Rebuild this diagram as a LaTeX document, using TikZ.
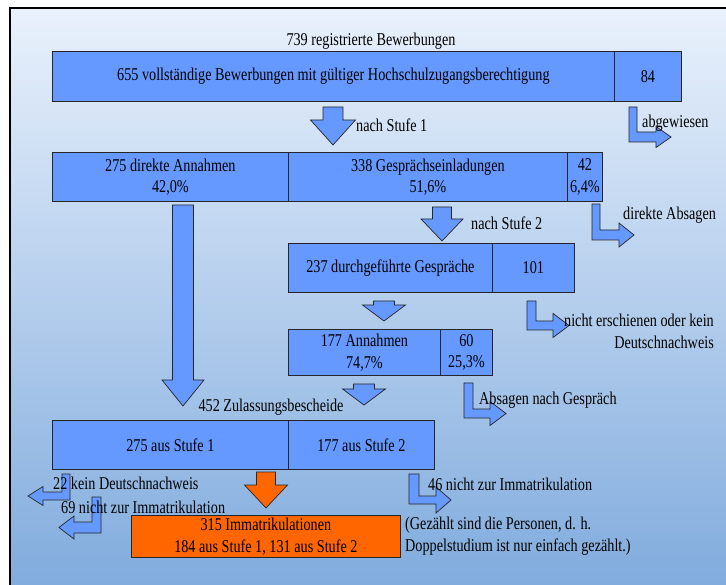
\documentclass[tikz,border=0pt]{standalone}
\usepackage{fontspec}
\setmainfont{Liberation Serif}[FakeStretch=0.79]
\definecolor{boxblue}{HTML}{6699FF}
\definecolor{boxorange}{HTML}{FF6600}
\definecolor{bgtop}{HTML}{E9F1FC}
\definecolor{bgbot}{HTML}{80ABDD}

% block arrow pointing down: style, centre x, top y, head y, tip y, half shaft, half head
\newcommand\blockdown[7]{%
  \draw[#1] ({#2-#6},#3) -- ({#2+#6},#3) -- ({#2+#6},#4) -- ({#2+#7},#4)
    -- (#2,#5) -- ({#2-#7},#4) -- ({#2-#6},#4) -- cycle;}
% bent arrow, down then right: stem left, stem right, top, bar top, bar bottom, head base x, head half height, tip x
\newcommand\bentright[8]{%
  \draw[blockarrow] (#1,#3) -- (#2,#3) -- (#2,#4) -- (#6,#4) -- (#6,{(#4+#5)/2-#7})
    -- (#8,{(#4+#5)/2}) -- (#6,{(#4+#5)/2+#7}) -- (#6,#5) -- (#1,#5) -- cycle;}
% bent arrow, down then left
\newcommand\bentleft[8]{%
  \draw[blockarrow] (#1,#3) -- (#2,#3) -- (#2,#5) -- (#6,#5) -- (#6,{(#4+#5)/2+#7})
    -- (#8,{(#4+#5)/2}) -- (#6,{(#4+#5)/2-#7}) -- (#6,#4) -- (#1,#4) -- cycle;}

\begin{document}
\begin{tikzpicture}[x=1pt,y=-1pt,
  every node/.style={font=\fontsize{18}{21.5}\selectfont, inner sep=0pt},
  cell/.style={draw=black!85, line width=0.8pt, fill=boxblue, anchor=north west, align=center},
  orangecell/.style={cell, fill=boxorange},
  dims/.style 2 args={minimum width=#1pt, minimum height=#2pt},
  blockarrow/.style={draw=black!85, line width=0.7pt, fill=boxblue, line join=miter},
  orangearrow/.style={blockarrow, fill=boxorange},
  label/.style={anchor=west},
]
\useasboundingbox (0,0) rectangle (726,585);

% backdrop and frame
\shade[top color=bgtop, bottom color=bgbot] (9.5,8.5) rectangle (730,590);
\draw[line width=2pt, black] (9.5,590) -- (9.5,8.5) -- (730,8.5);

% first row
\node (total) at (371,41) {739 registrierte Bewerbungen};
\node[cell, dims={562}{50}] (complete) at (52,51) {655 vollständige Bewerbungen mit gültiger Hochschulzugangsberechtigung};
\node[cell, dims={67}{50}] (rejected) at (614,51) {84};

\blockdown{blockarrow}{333}{107}{120}{145}{10}{22.5}
\node[label] (stage1) at (356,125) {nach Stufe 1};
\bentright{629}{637}{107}{132}{142}{656}{10.5}{671}
\node[label] (refused) at (642,123) {abgewiesen};

% second row
\node[cell, dims={236}{49}] (direct) at (52,152) {275 direkte Annahmen\\42,0\%};
\node[cell, dims={279}{49}] (invited) at (288,152) {338 Gesprächseinladungen\\51,6\%};
\node[cell, dims={35}{49}] (declined) at (567,152) {42\\6,4\%};

\blockdown{blockarrow}{183}{205}{380}{406}{10.5}{21}
\blockdown{blockarrow}{442}{207}{219}{241}{9.5}{21}
\node[label] (stage2) at (471,223) {nach Stufe 2};
\bentright{592}{600}{204}{230}{240}{619}{12}{634}
\node[label] (directno) at (623,215) {direkte Absagen};

% interviews
\node[cell, dims={204}{49}] (held) at (288,243) {237 durchgeführte Gespräche};
\node[cell, dims={82}{49}] (absent) at (492,243) {101};
\bentright{527}{536}{301}{321}{330}{553}{12}{569}
\node[anchor=north east, align=right] (noshow) at (714,314) {nicht erschienen oder kein\\Deutschnachweis};

\blockdown{blockarrow}{384}{301}{305}{321}{10.5}{21.5}
\node[cell, dims={152}{46}] (accepted) at (288,329) {177 Annahmen\\74,7\%};
\node[cell, dims={52}{46}] (notaccepted) at (440,329) {60\\25,3\%};

\blockdown{blockarrow}{364}{384}{389}{405}{10.5}{21.5}
\bentright{464}{473}{383}{409}{418}{490}{12}{506}
\node[label] (afterint) at (479,400) {Absagen nach Gespräch};

% admissions
\node (admitted) at (271,407) {452 Zulassungsbescheide};
\node[cell, dims={236}{49}] (from1) at (52,420) {275 aus Stufe 1};
\node[cell, dims={146}{49}] (from2) at (288,420) {177 aus Stufe 2};

\bentleft{62}{70}{474}{492}{500}{43}{9.5}{28}
\node[label] (nogerman) at (53,483) {22 kein Deutschnachweis};
\bentleft{92}{101}{497}{522}{533}{74}{11.5}{59}
\node[label] (noenrol1) at (61,507) {69 nicht zur Immatrikulation};
\bentright{409}{419}{474}{496}{504}{436}{13}{451}
\node[label] (noenrol2) at (428,484) {46 nicht zur Immatrikulation};

\blockdown{orangearrow}{266}{472}{485}{508}{9.5}{21.5}

% enrolments
\node[orangecell, dims={269}{42}] (enrolled) at (131,515) {315 Immatrikulationen\\184 aus Stufe 1, 131 aus Stufe 2};
\node[anchor=north west, align=left] (remark) at (405,517) {(Gezählt sind die Personen, d. h.\\Doppelstudium ist nur einfach gezählt.)};
\end{tikzpicture}
\end{document}
